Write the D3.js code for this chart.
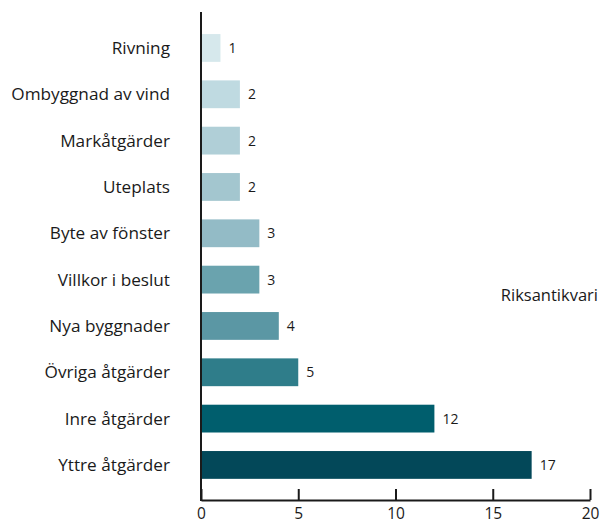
<!DOCTYPE html>
<meta charset="utf-8">
<style>
    body { margin: 0; background: #fff; }
    text { font-family: "Open Sans", "Noto Sans", sans-serif; fill: #1a1a1a; }
</style>
<body>
<script src="https://d3js.org/d3.v7.min.js"></script>
<script>
    // data, top to bottom
    const categories = ["Rivning", "Ombyggnad av vind", "Markåtgärder", "Uteplats", "Byte av fönster",
        "Villkor i beslut", "Nya byggnader", "Övriga åtgärder", "Inre åtgärder", "Yttre åtgärder"];
    const values = [1, 2, 2, 2, 3, 3, 4, 5, 12, 17];
    const barColors = ["#d6e8ec", "#bfdae1", "#b0cfd7", "#a3c6cf", "#93bbc6",
        "#6aa3ae", "#5b97a4", "#2f7d8a", "#005e6d", "#034859"];
    const ticks = [0, 5, 10, 15, 20];
    const sideLabel = "Riksantikvari";

    var width = 601, height = 523;

    let svg = d3.select('body').append('svg')
        .attr('width', width)
        .attr('height', height);

    let x = d3.scaleLinear().domain([0, 20]).range([201, 590]);
    let y = d3.scaleBand().domain(categories).range([24.8, 488.1])
        .paddingInner(0.4).paddingOuter(0.2);

    let rows = categories.map((c, i) => ({name: c, value: values[i], color: barColors[i]}));

    svg.append('g')
        .selectAll('rect')
        .data(rows)
        .enter().append('rect')
        .attr('x', x(0))
        .attr('y', d => y(d.name))
        .attr('width', d => x(d.value) - x(0))
        .attr('height', y.bandwidth())
        .attr('fill', d => d.color);

    // value labels
    svg.append('g')
        .selectAll('text')
        .data(rows)
        .enter().append('text')
        .attr('x', d => x(d.value) + 8)
        .attr('y', d => y(d.name) + y.bandwidth() / 2)
        .attr('dy', '0.35em')
        .style('font-size', '14px')
        .text(d => d.value);

    // category labels
    svg.append('g')
        .selectAll('text')
        .data(rows)
        .enter().append('text')
        .attr('x', 170)
        .attr('y', d => y(d.name) + y.bandwidth() / 2)
        .attr('dy', '0.35em')
        .attr('text-anchor', 'end')
        .style('font-size', '17.2px')
        .text(d => d.name);

    // vertical axis line
    svg.append('line')
        .attr('x1', x(0)).attr('x2', x(0))
        .attr('y1', 12).attr('y2', 501)
        .attr('stroke', '#1a1a1a')
        .attr('stroke-width', 2);

    // bottom axis, ticks point up
    let xAxis = svg.append('g')
        .attr('transform', 'translate(0,500)')
        .call(d3.axisBottom(x).tickValues(ticks).tickSizeInner(-11).tickSizeOuter(0).tickPadding(8));
    xAxis.select('.domain').attr('stroke', '#1a1a1a').attr('stroke-width', 2);
    xAxis.selectAll('.tick line').attr('stroke', '#1a1a1a').attr('stroke-width', 2);
    xAxis.selectAll('.tick text')
        .style('font-size', '15.5px')
        .attr('fill', '#1a1a1a')
        .attr('font-family', null);

    svg.append('text')
        .attr('x', 598)
        .attr('y', 295)
        .attr('dy', '0.35em')
        .attr('text-anchor', 'end')
        .style('font-size', '16.5px')
        .text(sideLabel);
</script>
</body>
